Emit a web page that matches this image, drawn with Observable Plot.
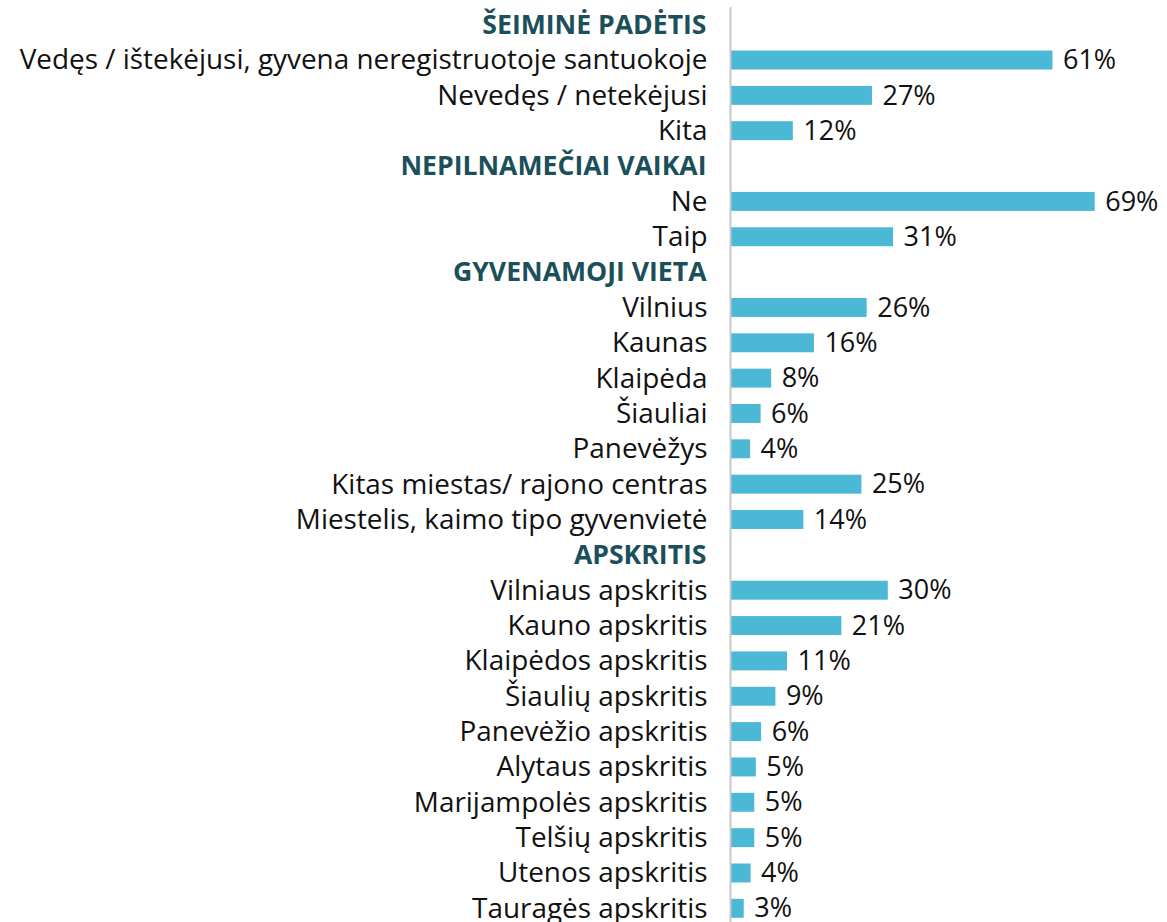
<!DOCTYPE html>
<html>
<head>
<meta charset="utf-8">
<script src="https://cdn.jsdelivr.net/npm/d3@7"></script>
<script src="https://cdn.jsdelivr.net/npm/@observablehq/plot@0.6"></script>
<style>
  html, body { margin: 0; padding: 0; background: #ffffff; overflow: hidden; }
  #chart svg { display: block; }
</style>
</head>
<body>
<div id="chart"></div>
<script>
const groups = ["ŠEIMINĖ PADĖTIS", "NEPILNAMEČIAI VAIKAI", "GYVENAMOJI VIETA", "APSKRITIS"];

const seimosItems = ["Vedęs / ištekėjusi, gyvena neregistruotoje santuokoje", "Nevedęs / netekėjusi", "Kita"];
const seimosValues = [61.1, 26.9, 11.9];

const vaikaiItems = ["Ne", "Taip"];
const vaikaiValues = [69.1, 30.9];

const vietaItems = ["Vilnius", "Kaunas", "Klaipėda", "Šiauliai", "Panevėžys", "Kitas miestas/ rajono centras", "Miestelis, kaimo tipo gyvenvietė"];
const vietaValues = [25.9, 15.9, 7.8, 5.8, 3.8, 24.9, 13.9];

const apskritisItems = ["Vilniaus apskritis", "Kauno apskritis", "Klaipėdos apskritis", "Šiaulių apskritis", "Panevėžio apskritis", "Alytaus apskritis", "Marijampolės apskritis", "Telšių apskritis", "Utenos apskritis", "Tauragės apskritis"];
const apskritisValues = [29.9, 21.1, 10.8, 8.6, 5.9, 4.9, 4.6, 4.6, 3.9, 2.6];

const groupItems = [seimosItems, vaikaiItems, vietaItems, apskritisItems];
const groupValues = [seimosValues, vaikaiValues, vietaValues, apskritisValues];

// Build rows (headers + items) in display order
const rows = [];
groups.forEach((g, gi) => {
  rows.push({ key: "H:" + g, label: g, header: true, value: null });
  groupItems[gi].forEach((item, ii) => {
    rows.push({ key: g + ":" + item, label: item, header: false, value: groupValues[gi][ii] });
  });
});
const items = rows.filter(d => !d.header);
const headers = rows.filter(d => d.header);
const FONT = "'Open Sans', Lato, sans-serif";

const plot = Plot.plot({
  width: 1167,
  height: 926,
  marginLeft: 730,
  marginRight: 0,
  marginTop: 7,
  marginBottom: 0,
  style: { fontFamily: FONT, background: "#ffffff" },
  x: { domain: [0, 82.8], axis: null },
  y: { domain: rows.map(d => d.key), axis: null, padding: 0, round: false },
  marks: [
    Plot.barX(items, {
      x: "value", y: "key", fill: "#4BB8D5", insetTop: 8.2, insetBottom: 8.2
    }),
    Plot.ruleX([0], { stroke: "#c8c8c8", strokeWidth: 2 }),
    Plot.text(items, {
      x: 0, y: "key", text: "label", textAnchor: "end", dx: -23,
      fill: "#111111", fontSize: 27.9
    }),
    Plot.text(headers, {
      x: 0, y: "key", text: "label", textAnchor: "end", dx: -24,
      fill: "#1B4F5A", fontWeight: "bold", fontSize: 26.6
    }),
    Plot.text(items, {
      x: "value", y: "key", text: d => Math.round(d.value) + "%",
      textAnchor: "start", dx: 10, fill: "#111111", fontSize: 27
    })
  ]
});
document.getElementById("chart").appendChild(plot);
</script>
</body>
</html>
